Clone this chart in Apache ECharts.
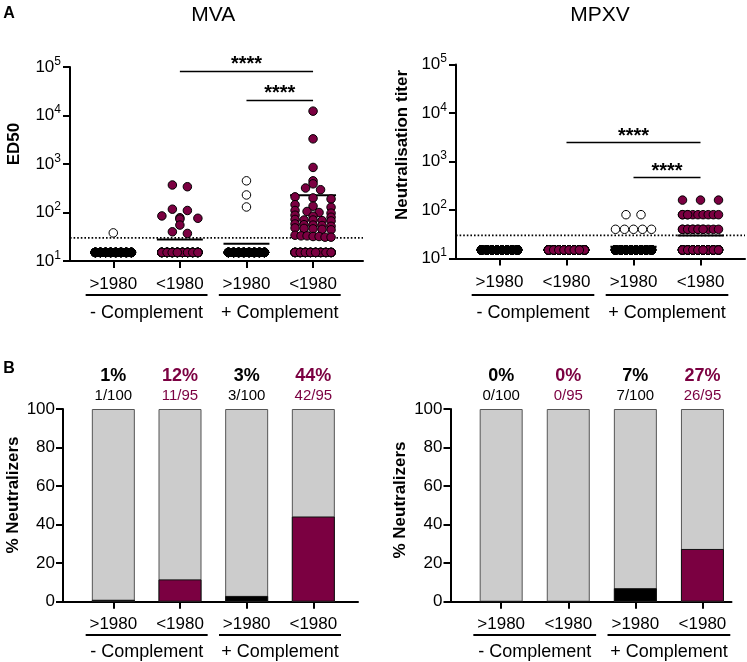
<!DOCTYPE html>
<html><head><meta charset="utf-8">
<script src="https://cdn.jsdelivr.net/npm/echarts@6/dist/echarts.min.js"></script>
<style>html,body{margin:0;padding:0;background:#fff}#c{width:747px;height:662px}</style>
</head><body><div id="c"></div>
<script>
// ---------- data ----------
const categories = ['>1980', '<1980', '>1980', '<1980'];
const complementLabels = ['- Complement', '+ Complement'];
const panelTitles = ['MVA', 'MPXV'];
const yTitlesTop = ['ED50', 'Neutralisation titer'];
const yTitleBottom = '% Neutralizers';
const THRESHOLD = 30;   // dotted cut-off
const FLOOR = 15;       // value plotted for samples below detection

// values above the detection floor, one list per group
const mvaAbove = [
  [38],
  [369, 340, 117, 110, 85, 78, 76, 73, 55, 40, 37],
  [450, 230, 130],
  [12300, 3300, 850, 450, 390, 320, 295, 210, 200, 190, 145, 135, 128, 110, 105, 100, 97,
   88, 84, 80, 72, 70, 70, 68, 67, 58, 56, 55, 54, 52, 48, 47, 46, 45, 44,
   34, 33, 33, 32, 32, 31, 31]
];
const mvaFloorCount = [99, 84, 97, 53];

const mpxvAbove = [
  [],
  [],
  [80, 80, 40, 40, 40, 40, 40],
  [160, 160, 160, 80, 80, 80, 80, 80, 80, 80, 80, 80, 80,
   40, 40, 40, 40, 40, 40, 40, 40, 40, 40, 40, 40, 40]
];
const mpxvFloorCount = [100, 95, 93, 69];

// significance bars (from group, to group, height in titer units)
const mvaBrackets = [[2, 4, 82800], [3, 4, 20900]];
const mpxvBrackets = [[2, 4, 2470], [3, 4, 475]];

// ---------- layout / style ----------
const PURPLE = '#7b0041';
const FONT = '"Liberation Sans", Arial, sans-serif';
const grids = [
  {left: 70,    top: 67,   width: 293, height: 194,   xmin: 0.35,   xmax: 4.75},
  {left: 456,   top: 64.5, width: 289, height: 194,   xmin: 0.351,  xmax: 4.664},
  {left: 63,    top: 409,  width: 295, height: 192.7, xmin: 0.245,  xmax: 4.67},
  {left: 450.5, top: 409,  width: 281, height: 192.7, xmin: 0.2445, xmax: 4.433}
];
function xPx(gi, v) { const g = grids[gi]; return g.left + (v - g.xmin) / (g.xmax - g.xmin) * g.width; }

function swarm(values, gi) {
  const g = grids[gi];
  const unit = g.width / (g.xmax - g.xmin);
  const decade = g.height / 4;
  const sorted = values.slice().sort((a, b) => b - a);
  const bins = [];
  sorted.forEach(v => {
    const last = bins[bins.length - 1];
    if (last && (Math.log10(last[0]) - Math.log10(v)) * decade <= 3) last.push(v);
    else bins.push([v]);
  });
  const out = [];
  bins.forEach(bin => {
    const k = bin.length;
    let slots;
    if (k === 1) slots = [0];
    else if (k === 2) slots = [-7.5, 7.5];
    else {
      const n = Math.min(k, 8); slots = [];
      for (let i = 0; i < n; i++) slots.push(-18 + 36 * i / (n - 1));
    }
    bin.forEach((v, j) => out.push([slots[j % slots.length] / unit, v]));
  });
  return out;
}

const panels = [
  {above: mvaAbove, floor: mvaFloorCount, brackets: mvaBrackets},
  {above: mpxvAbove, floor: mpxvFloorCount, brackets: mpxvBrackets}
];

const axisLine = {show: true, onZero: false, lineStyle: {color: '#000', width: 2}};
const axisTick = {show: true, length: 7, lineStyle: {color: '#000', width: 2}};
const xAxes = [], yAxes = [], series = [];

grids.forEach((g, gi) => {
  xAxes.push({
    gridIndex: gi, type: 'value', min: g.xmin, max: g.xmax,
    axisLine: axisLine,
    axisTick: Object.assign({customValues: [1, 2, 3, 4]}, axisTick),
    axisLabel: {customValues: [1, 2, 3, 4], formatter: v => categories[Math.round(v) - 1],
      color: '#000', fontSize: 17, margin: gi < 2 ? 15 : 14, fontFamily: FONT},
    splitLine: {show: false}
  });
});
// top y axes (log)
[0, 1].forEach(gi => {
  yAxes.push({
    gridIndex: gi, type: 'log', logBase: 10, min: 10, max: 100000,
    axisLine: axisLine, axisTick: axisTick, splitLine: {show: false}, minorTick: {show: false},
    axisLabel: {
      margin: 9, color: '#000', fontFamily: FONT,
      formatter: v => '{b|10}{s|' + Math.round(Math.log10(v)) + '}',
      rich: {b: {fontSize: 17, color: '#000', fontFamily: FONT},
             s: {fontSize: 12, color: '#000', fontFamily: FONT, padding: [0, 0, 11, 0]}}
    }
  });
});
// bottom y axes (percent)
[2, 3].forEach(gi => {
  yAxes.push({
    gridIndex: gi, type: 'value', min: 0, max: 100, interval: 20,
    axisLine: axisLine, axisTick: axisTick, splitLine: {show: false},
    axisLabel: {margin: 8, color: '#000', fontSize: 17, fontFamily: FONT}
  });
});

panels.forEach((p, pi) => {
  const g = grids[pi];
  // threshold + brackets
  series.push({
    type: 'line', xAxisIndex: pi, yAxisIndex: pi, symbol: 'none', silent: true, z: 2,
    data: [[g.xmin, THRESHOLD], [g.xmax, THRESHOLD]],
    lineStyle: {color: '#000', width: 1.6, type: [1.6, 2]},
    markLine: {
      silent: true, symbol: ['none', 'none'], animation: false,
      lineStyle: {color: '#000', width: 1.3, type: 'solid'},
      label: {show: true, position: 'middle', formatter: '****', fontSize: 20, fontWeight: 'bold',
              color: '#000', fontFamily: FONT, distance: 0, offset: [0, 4]},
      data: p.brackets.map(b => [{coord: [b[0], b[2]]}, {coord: [b[1], b[2]]}])
    }
  });
  const neutral = [], totals = [];
  p.above.forEach((ab, gIdx) => {
    const vals = ab.concat(new Array(p.floor[gIdx]).fill(FLOOR));
    neutral.push(ab.filter(v => v > THRESHOLD).length);
    totals.push(vals.length);
    const mean = vals.reduce((a, b) => a + b, 0) / vals.length;
    const cx = gIdx + 1;
    series.push({
      type: 'line', xAxisIndex: pi, yAxisIndex: pi, symbol: 'none', silent: true, z: 3,
      data: [[cx - 0.345, mean], [cx + 0.345, mean]],
      lineStyle: {color: '#000', width: 2}
    });
    const hollow = gIdx % 2 === 0;
    series.push({
      type: 'scatter', xAxisIndex: pi, yAxisIndex: pi, symbol: 'circle', symbolSize: 8.5, z: 5,
      silent: true,
      data: swarm(vals, pi).map(d => ({
        value: [cx + d[0], d[1]],
        itemStyle: {color: hollow ? (d[1] === FLOOR ? '#000' : '#fff') : PURPLE,
                    borderColor: '#000', borderWidth: 1, opacity: 1}
      }))
    });
  });
  // bottom bars
  const bi = pi + 2;
  series.push({
    type: 'bar', xAxisIndex: bi, yAxisIndex: bi, barWidth: 43, barGap: '-100%', z: 2, silent: true,
    itemStyle: {color: '#cccccc', borderColor: '#555', borderWidth: 1},
    data: neutral.map((n, i) => {
      const c = i % 2 === 0 ? '#000' : PURPLE;
      const pct = Math.round(n / totals[i] * 100);
      return {
        value: [i + 1, 100],
        label: {show: true, position: 'top', distance: 3,
          formatter: '{p|' + pct + '%}\n{f|' + n + '/' + totals[i] + '}',
          rich: {p: {fontSize: 18, fontWeight: 'bold', color: c, lineHeight: 20, fontFamily: FONT},
                 f: {fontSize: 15, color: c, lineHeight: 20, fontFamily: FONT}}}
      };
    })
  });
  series.push({
    type: 'bar', xAxisIndex: bi, yAxisIndex: bi, barWidth: 43, barGap: '-100%', z: 3, silent: true,
    data: neutral.map((n, i) => ({
      value: [i + 1, n / totals[i] * 100],
      itemStyle: {color: i % 2 === 0 ? '#000' : PURPLE, borderColor: '#111', borderWidth: 1}
    }))
  });
});

// ---------- text decorations ----------
const graphic = [];
function txt(x, y, text, size, weight, rot) {
  graphic.push({type: 'text', x: x, y: y, rotation: rot || 0, silent: true,
    style: {text: text, fontSize: size, fontWeight: weight || 'normal', fontFamily: FONT, fill: '#000',
            align: 'center', verticalAlign: 'middle', textAlign: 'center', textVerticalAlign: 'middle'}});
}
function hline(x1, x2, y) {
  graphic.push({type: 'line', silent: true, shape: {x1: x1, y1: y, x2: x2, y2: y},
    style: {stroke: '#000', lineWidth: 2}});
}
txt(9, 14, 'A', 16, 'bold');
txt(9, 369, 'B', 16, 'bold');
txt(xPx(0, 2.5), 15, panelTitles[0], 21);
txt(xPx(1, 2.5), 15, panelTitles[1], 21);
txt(14.5, 144, yTitlesTop[0], 17, 'bold', Math.PI / 2);
txt(402.5, 145, yTitlesTop[1], 17, 'bold', Math.PI / 2);
txt(13.7, 495, yTitleBottom, 17, 'bold', Math.PI / 2);
txt(400.5, 500, yTitleBottom, 17, 'bold', Math.PI / 2);
[[0, 295, 313.3], [1, 295, 313.3], [2, 635, 651.7], [3, 635, 651.7]].forEach(([gi, ly, ty]) => {
  [1.5, 3.5].forEach((c, k) => {
    hline(xPx(gi, c - 0.915), xPx(gi, c + 0.915), ly);
    txt(xPx(gi, c), ty, complementLabels[k], 18);
  });
});

const chart = echarts.init(document.getElementById('c'), null, {renderer: 'canvas'});
chart.setOption({
  animation: false,
  backgroundColor: '#fff',
  textStyle: {fontFamily: FONT},
  grid: grids.map(g => ({left: g.left, top: g.top, width: g.width, height: g.height,
                         containLabel: false, outerBoundsMode: 'none'})),
  xAxis: xAxes,
  yAxis: yAxes,
  series: series,
  graphic: graphic
});
</script></body></html>
